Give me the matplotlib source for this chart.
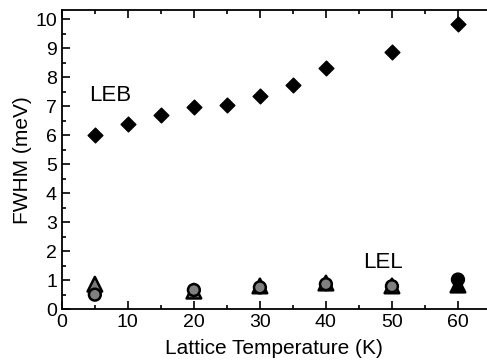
import numpy as np
import matplotlib.pyplot as plt
from matplotlib.ticker import MultipleLocator

# LEB widths (diamonds)
leb_temp = [5, 10, 15, 20, 25, 30, 35, 40, 50, 60]
leb_fwhm = [6.0, 6.4, 6.7, 6.97, 7.03, 7.35, 7.73, 8.32, 8.88, 9.83]

# LEL widths, two sets (triangles and circles)
lel_temp = [5, 20, 30, 40, 50, 60]
lel_tri = [0.86, 0.62, 0.80, 0.90, 0.80, 0.83]
lel_circ = [0.50, 0.66, 0.75, 0.86, 0.79, 1.02]
tri_colors = ['#7a7a7a', '#7a7a7a', '#7a7a7a', '#7a7a7a', '#7a7a7a', 'black']
circ_colors = ['#808080', '#808080', '#808080', '#808080', '#808080', 'black']

plt.rcParams['font.family'] = ['Liberation Sans', 'DejaVu Sans']

fig = plt.figure(figsize=(4.87, 3.62), dpi=100)
ax = fig.add_axes([0.127, 0.146, 0.873, 0.826])

ax.scatter(leb_temp, leb_fwhm, marker='D', s=7.5**2, color='black', zorder=3)
ax.scatter(lel_temp, lel_tri, marker='^', s=10.5**2, facecolor=tri_colors,
           edgecolor='black', linewidth=1.8, zorder=3)
ax.scatter(lel_temp, lel_circ, marker='o', s=8.5**2, facecolor=circ_colors,
           edgecolor='black', linewidth=1.8, zorder=4)

ax.text(4.2, 7.38, 'LEB', fontsize=16, va='center', ha='left')
ax.text(45.6, 1.62, 'LEL', fontsize=16, va='center', ha='left')

ax.set_xlim(0, 64.4)
ax.set_ylim(0, 10.31)
ax.xaxis.set_major_locator(MultipleLocator(10))
ax.xaxis.set_minor_locator(MultipleLocator(5))
ax.yaxis.set_major_locator(MultipleLocator(1))
ax.yaxis.set_minor_locator(MultipleLocator(0.5))
ax.tick_params(which='both', direction='in', top=True, right=False,
               width=1.2, labelsize=14)
ax.tick_params(which='major', length=6)
ax.tick_params(which='minor', length=3)
ax.spines['right'].set_visible(False)
for s in ['left', 'bottom', 'top']:
    ax.spines[s].set_linewidth(1.3)

ax.set_xlabel('Lattice Temperature (K)', fontsize=15, labelpad=6)
ax.set_ylabel('FWHM (meV)', fontsize=15, labelpad=2)

fig.savefig('out.png', dpi=100)
